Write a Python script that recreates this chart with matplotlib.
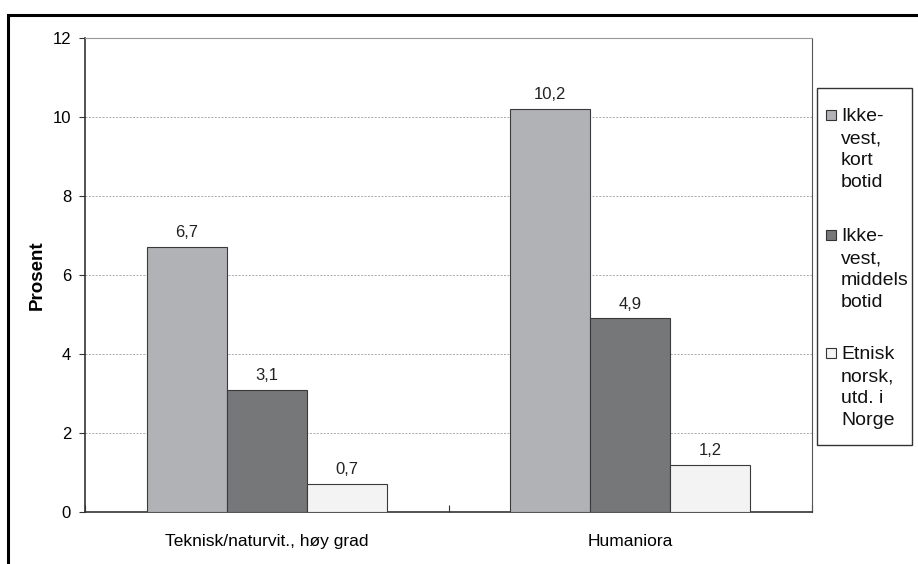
import matplotlib
matplotlib.use("Agg")
import matplotlib.pyplot as plt
import numpy as np
from matplotlib.patches import Rectangle

categories = ["Teknisk/naturvit., høy grad", "Humaniora"]
series_names = ["Ikke-\nvest,\nkort\nbotid", "Ikke-\nvest,\nmiddels\nbotid", "Etnisk\nnorsk,\nutd. i\nNorge"]
values = [
    [6.7, 10.2],
    [3.1, 4.9],
    [0.7, 1.2],
]
colors = ["#b1b2b6", "#767779", "#f3f3f3"]
yticks = [0, 2, 4, 6, 8, 10, 12]

plt.rcParams['font.family'] = ['Liberation Sans', 'DejaVu Sans']

W, H = 918, 564
fig = plt.figure(figsize=(W / 100, H / 100), dpi=100)
ax = fig.add_axes([85/W, 1-512/H, (812-85)/W, (512-38)/H])

def fx(px):
    return px / W

def fy(py):
    return 1 - py / H

x = np.arange(len(categories))
w = 0.22
for i, (name, vals, c) in enumerate(zip(series_names, values, colors)):
    xs = x + (i - 1) * w
    ax.bar(xs, vals, width=w, color=c, edgecolor="#3a3a3a", linewidth=0.8, label=name, zorder=3)
    for xi, v in zip(xs, vals):
        ax.annotate(f"{v:.1f}".replace(".", ","), (xi, v), xytext=(0, 5), textcoords="offset points",
                    ha="center", va="bottom", fontsize=12, color="#222222")

ax.set_xlim(-0.5, 1.5)
ax.set_ylim(0, 12)
ax.set_yticks(yticks)
ax.set_yticklabels([str(t) for t in yticks], fontsize=12)
ax.yaxis.grid(True, linestyle=(0, (2, 1.5)), color="#aaaaaa", linewidth=0.7, zorder=0)
ax.set_xticks([-0.5, 0.5, 1.5])
ax.set_xticklabels([])
ax.set_xticks(x, minor=True)
ax.set_xticklabels(categories, minor=True, fontsize=12.5)
ax.tick_params(axis='x', which='minor', length=0, pad=16)
ax.tick_params(axis='x', which='major', length=5, direction='in', color="#333333")
ax.tick_params(axis='y', length=4, direction='out', color="#333333", pad=6)
ax.spines['left'].set_color("#333333")
ax.spines['bottom'].set_color("#333333")
ax.spines['top'].set_color("#999999")
ax.spines['right'].set_color("#555555")
ax.spines['bottom'].set_linewidth(1.2)
ax.spines['left'].set_linewidth(1.2)

ax.set_ylabel("Prosent", fontsize=13.5, fontweight="bold")
ax.yaxis.set_label_coords((46 - 85) / (812 - 85), 0.5)

# manual legend (handle aligned with first text line, as in the reference)
fig.patches.append(Rectangle((fx(817), fy(445)), fx(912) - fx(817), fy(88) - fy(445),
                             transform=fig.transFigure, facecolor="white",
                             edgecolor="#333333", linewidth=1.0, zorder=5))
first_line = [115, 235, 353]
pitch = 22
for name, c, y0 in zip(series_names, colors, first_line):
    fig.patches.append(Rectangle((fx(826), fy(y0 + 5)), fx(10), 10 / H,
                                 transform=fig.transFigure, facecolor=c,
                                 edgecolor="#333333", linewidth=0.8, zorder=6))
    for j, line in enumerate(name.split("\n")):
        fig.text(fx(841), fy(y0 + j * pitch + 6), line, fontsize=14, ha="left",
                 va="baseline", color="#111111", zorder=7)

fig.patches.append(Rectangle((8/W, -0.1), 1.2, 1 - 15/H + 0.1, transform=fig.transFigure,
                             fill=False, edgecolor="black", linewidth=2.2))

fig.savefig("out.png", dpi=100)
